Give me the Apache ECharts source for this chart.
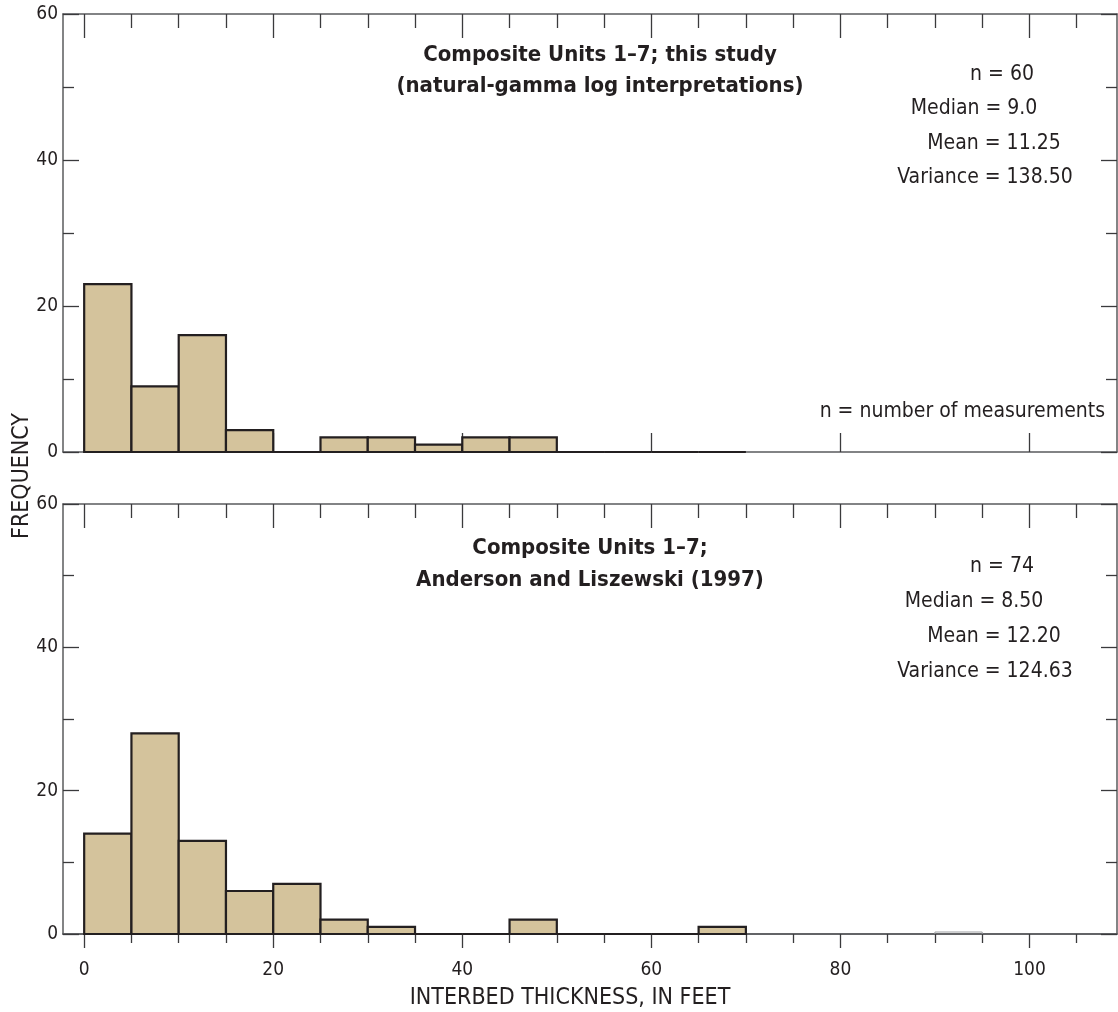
<!DOCTYPE html>
<html>
<head>
<meta charset="utf-8">
<script src="https://cdn.jsdelivr.net/npm/echarts@6/dist/echarts.min.js"></script>
<style>
html,body{margin:0;padding:0;background:#fff;}
#chart{width:1118px;height:1012px;}
</style>
</head>
<body>
<div id="chart"></div>
<script>
// ---- data ----
const binStarts = [0, 5, 10, 15, 20, 25, 30, 35, 40, 45, 50, 55, 60, 65];
const binWidth = 5;
const topCounts = [23, 9, 16, 3, 0, 2, 2, 1, 2, 2, 0, 0, 0, 0];
const bottomCounts = [14, 28, 13, 6, 7, 2, 1, 0, 0, 2, 0, 0, 0, 1];
const bottomEmptyBins = [90];
const xMajorTicks = [0, 20, 40, 60, 80, 100];
const xMinorTicks = [5, 10, 15, 25, 30, 35, 45, 50, 55, 65, 70, 75, 85, 90, 95, 105];
const topTitle = ['Composite Units 1\u20137; this study', '(natural-gamma log interpretations)'];
const bottomTitle = ['Composite Units 1\u20137;', 'Anderson and Liszewski (1997)'];
const topStats = ['n = 60', 'Median = 9.0', 'Mean = 11.25', 'Variance = 138.50'];
const bottomStats = ['n = 74', 'Median = 8.50', 'Mean = 12.20', 'Variance = 124.63'];

const FONT = "'Liberation Sans Narrow', 'DejaVu Sans Condensed', 'Roboto', sans-serif";
const TXT = '#231f20';
const FRAME = '#5a5b5d';
const BAR = '#d4c39c';
const XMIN = -2.24, XMAX = 109.26;

const chart = echarts.init(document.getElementById('chart'));

function binData(counts) {
  return binStarts.map((s, i) => [s, s + binWidth, counts[i]]);
}

function renderBin(params, api) {
  const x0 = api.value(0), x1 = api.value(1), c = api.value(2);
  const p0 = api.coord([x0, c]);
  const p1 = api.coord([x1, 0]);
  return {
    type: 'rect',
    shape: { x: p0[0], y: p0[1], width: p1[0] - p0[0], height: p1[1] - p0[1] },
    style: { fill: BAR, stroke: TXT, lineWidth: 2.2 }
  };
}
function renderEmpty(params, api) {
  const p0 = api.coord([api.value(0), 0]);
  const p1 = api.coord([api.value(1), 0]);
  return {
    type: 'polyline',
    shape: { points: [[p0[0], p0[1]], [p0[0], p0[1] - 2], [p1[0], p1[1] - 2], [p1[0], p1[1]]] },
    style: { fill: null, stroke: '#9d9fa2', lineWidth: 1 }
  };
}

const grids = [
  { left: 63, top: 14, width: 1054, height: 438 },
  { left: 63, top: 504, width: 1054, height: 430 }
];

const xAxes = [];
const yAxes = [];
function xAx(grid, pos, ticks, len, inside, showLine, labels) {
  const a = {
    type: 'value', gridIndex: grid, position: pos, min: XMIN, max: XMAX,
    axisLine: { show: showLine, onZero: false, lineStyle: { color: FRAME, width: 1.5 } },
    axisTick: { show: true, inside: inside, length: len, customValues: ticks, lineStyle: { color: '#3a3a3c', width: 1.3 } },
    axisLabel: { show: !!labels },
    splitLine: { show: false }
  };
  if (labels) {
    a.axisLabel = { show: true, customValues: xMajorTicks, margin: 27, color: TXT, fontFamily: FONT, fontSize: 19 };
  }
  xAxes.push(a);
  return xAxes.length - 1;
}
function yAx(grid, pos, labels) {
  yAxes.push({
    type: 'value', gridIndex: grid, position: pos, min: 0, max: 60, interval: 20,
    axisLine: { show: true, onZero: false, lineStyle: { color: FRAME, width: 1.5 } },
    axisTick: { show: true, inside: true, length: 16, lineStyle: { color: '#3a3a3c', width: 1.3 } },
    minorTick: { show: true, splitNumber: 2, length: 11, lineStyle: { color: '#3a3a3c', width: 1.3 } },
    axisLabel: { show: labels, margin: 5, color: TXT, fontFamily: FONT, fontSize: 19 },
    splitLine: { show: false }, minorSplitLine: { show: false }
  });
  return yAxes.length - 1;
}

// top panel
const tX = xAx(0, 'bottom', xMajorTicks, 19, true, true, false);
xAx(0, 'top', xMinorTicks, 14, true, true, false);
xAx(0, 'top', xMajorTicks, 24, true, false, false);
const tY = yAx(0, 'left', true);
yAx(0, 'right', false);
// bottom panel
xAx(1, 'bottom', xMinorTicks, 9, false, true, false);
const bX = xAx(1, 'bottom', xMajorTicks, 14, false, true, true);
xAx(1, 'top', xMinorTicks, 14, true, true, false);
xAx(1, 'top', xMajorTicks, 24, true, false, false);
const bY = yAx(1, 'left', true);
yAx(1, 'right', false);

function txt(text, x, y, opts) {
  return {
    type: 'text', x: x, y: y, silent: true,
    style: Object.assign({
      text: text, fill: TXT, font: '21px ' + FONT, align: 'center', verticalAlign: 'middle'
    }, opts || {})
  };
}

const graphics = [];
const titleFont = 'bold 22px ' + FONT;
graphics.push(txt(topTitle[0], 600, 55, { font: titleFont }));
graphics.push(txt(topTitle[1], 600, 86, { font: titleFont }));
graphics.push(txt(bottomTitle[0], 590, 548, { font: titleFont }));
graphics.push(txt(bottomTitle[1], 590, 580, { font: titleFont }));
const statX = [1002, 974, 994, 985];
const topStatY = [75, 109, 144, 178];
const botStatY = [567, 602, 637, 672];
topStats.forEach((s, i) => graphics.push(txt(s, statX[i], topStatY[i])));
bottomStats.forEach((s, i) => graphics.push(txt(s, statX[i], botStatY[i])));
graphics.push(txt('n = number of measurements', 1105, 412, { align: 'right' }));
graphics.push(txt('INTERBED THICKNESS, IN FEET', 570, 998, { font: '23px ' + FONT }));
graphics.push({
  type: 'text', x: 22, y: 476, rotation: Math.PI / 2, silent: true,
  style: { text: 'FREQUENCY', fill: TXT, font: '23px ' + FONT, align: 'center', verticalAlign: 'middle' }
});

chart.setOption({
  animation: false,
  backgroundColor: '#ffffff',
  grid: grids,
  xAxis: xAxes,
  yAxis: yAxes,
  graphic: graphics,
  series: [
    {
      type: 'custom', xAxisIndex: tX, yAxisIndex: tY, renderItem: renderBin,
      encode: { x: [0, 1], y: 2 }, data: binData(topCounts), clip: false, z: 5
    },
    {
      type: 'custom', xAxisIndex: bX, yAxisIndex: bY, renderItem: renderBin,
      encode: { x: [0, 1], y: 2 }, data: binData(bottomCounts), clip: false, z: 5
    },
    {
      type: 'custom', xAxisIndex: bX, yAxisIndex: bY, renderItem: renderEmpty,
      encode: { x: [0, 1], y: 2 }, data: bottomEmptyBins.map(s => [s, s + binWidth, 0]), clip: false, z: 5
    }
  ]
});
</script>
</body>
</html>
